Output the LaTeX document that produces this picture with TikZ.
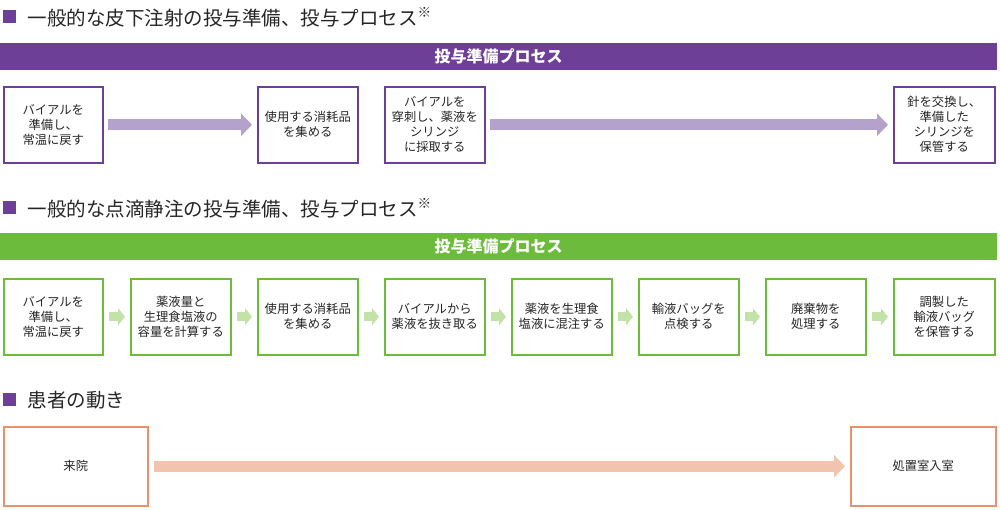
\documentclass[tikz,border=0pt]{standalone}
\usepackage{fontspec}
\setmainfont{Noto Sans CJK JP}
\usetikzlibrary{arrows.meta}
\definecolor{pur}{HTML}{6E3F96}
\definecolor{lav}{HTML}{B4A2CD}
\definecolor{grn}{HTML}{6CBB3C}
\definecolor{lgrn}{HTML}{C3E2A8}
\definecolor{org}{HTML}{E8916A}
\definecolor{peach}{HTML}{F2C4AD}
\begin{document}
\begin{tikzpicture}[x=1pt,y=-1pt,
  box/.style={draw=#1,line width=1.5pt,fill=white,minimum height=76pt,minimum width=99pt,anchor=north west,align=center,font=\fontsize{12.3}{15}\selectfont,text=black!85},
  bar/.style={fill=#1,minimum width=997pt,minimum height=27pt,anchor=north west,text=white,font=\fontsize{16}{18}\selectfont\bfseries},
  head/.style={anchor=west,font=\fontsize{19.5}{22}\selectfont,text=black!85},
  sq/.style={fill=pur,minimum size=13pt,inner sep=0pt,anchor=north west},
  big/.style={-{Triangle[length=11pt,width=22pt]},line width=11pt,draw=#1},
  sm/.style={-{Triangle[length=7pt,width=17pt]},line width=9pt,draw=lgrn,shorten <=5pt,shorten >=5pt}]
\useasboundingbox (0,0) rectangle (1000,509);
% section 1
\node[sq] (s1) at (3,10) {};
\node[head] (h1) at (24,17) {一般的な皮下注射の投与準備、投与プロセス\textsuperscript{※}};
\node[bar=pur] (b1) at (0,43) {投与準備プロセス};
\node[box=pur] (a1) at (3,86) {バイアルを\\準備し、\\常温に戻す};
\node[box=pur,minimum width=100pt] (a2) at (257,86) {使用する消耗品\\を集める};
\node[box=pur,minimum width=100pt] (a3) at (384,86) {バイアルを\\穿刺し、薬液を\\シリンジ\\に採取する};
\node[box=pur,minimum width=101pt] (a4) at (893,86) {針を交換し、\\準備した\\シリンジを\\保管する};
\draw[big=lav,shorten <=4pt,shorten >=5pt] (a1.east) -- (a2.west);
\draw[big=lav,shorten <=4pt,shorten >=5pt] (a3.east) -- (a4.west);
% section 2
\node[sq] (s2) at (3,201) {};
\node[head] (h2) at (24,208) {一般的な点滴静注の投与準備、投与プロセス\textsuperscript{※}};
\node[bar=grn] (b2) at (0,233) {投与準備プロセス};
\node[box=grn] (c1) at (3,278) {バイアルを\\準備し、\\常温に戻す};
\node[box=grn,minimum width=100pt] (c2) at (130,278) {薬液量と\\生理食塩液の\\容量を計算する};
\node[box=grn,minimum width=100pt] (c3) at (257,278) {使用する消耗品\\を集める};
\node[box=grn,minimum width=100pt] (c4) at (384,278) {バイアルから\\薬液を抜き取る};
\node[box=grn,minimum width=100pt] (c5) at (511,278) {薬液を生理食\\塩液に混注する};
\node[box=grn,minimum width=100pt] (c6) at (638,278) {輸液バッグを\\点検する};
\node[box=grn,minimum width=100pt] (c7) at (765,278) {廃棄物を\\処理する};
\node[box=grn,minimum width=101pt] (c8) at (893,278) {調製した\\輸液バッグ\\を保管する};
\foreach \i/\j in {1/2,2/3,3/4,4/5,5/6,6/7,7/8} \draw[sm] (c\i.east) -- (c\j.west);
% section 3
\node[sq] (s3) at (3,393) {};
\node[head] (h3) at (24,400) {患者の動き};
\node[box=org,minimum width=144pt,minimum height=79pt] (d1) at (3,426) {来院};
\node[box=org,minimum width=145pt,minimum height=79pt] (d2) at (850,426) {処置室入室};
\draw[big=peach,shorten <=5pt,shorten >=5pt] (d1.east) -- (d2.west);
\end{tikzpicture}
\end{document}
